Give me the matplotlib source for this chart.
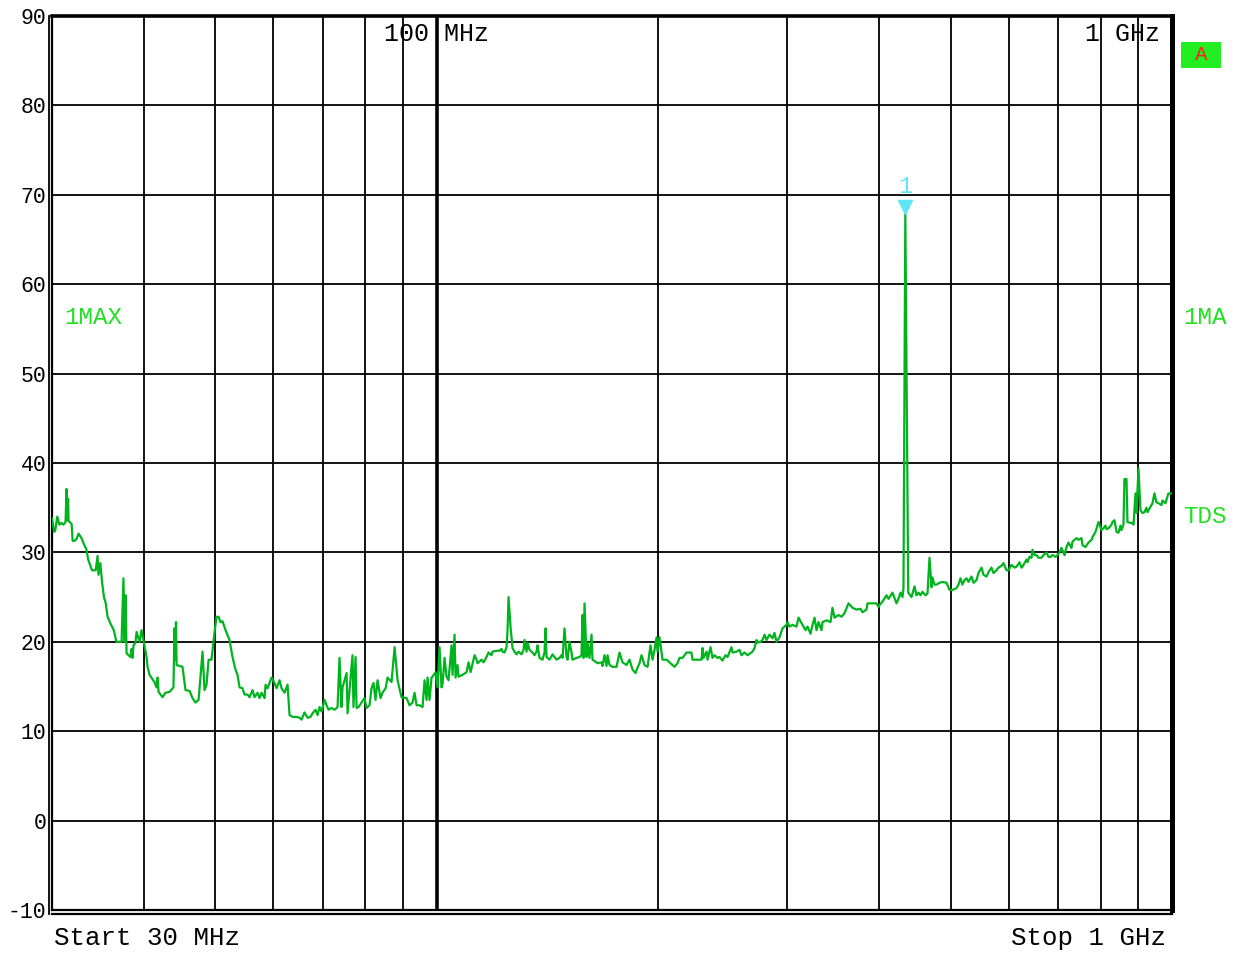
import matplotlib
matplotlib.use("Agg")
import matplotlib.pyplot as plt
import matplotlib.transforms as mtransforms
from matplotlib.patches import Rectangle

# ---------------- data ----------------
freq_mhz = [
    30.0, 30.2, 30.3, 30.5, 30.7, 30.9, 31.1, 31.3, 31.4, 31.48, 31.55, 31.6, 31.9, 32.0, 32.2, 32.4,
    32.6, 32.9, 33.2, 33.4, 33.6, 34.0, 34.4, 34.6, 34.7, 34.9, 35.1, 35.3, 35.5, 35.7, 36.0, 36.4,
    36.7, 37.3, 37.52, 37.65, 37.77, 37.89, 38.36,
    38.48, 38.60, 38.72, 38.96, 39.09, 39.46, 39.71, 40.07, 40.34, 40.46, 40.72, 41.34, 41.62, 41.75,
    41.88, 42.40, 42.79, 43.35, 43.88, 44.02, 44.16, 44.23, 44.31, 45.14, 45.57, 46.15, 46.58, 47.01,
    47.47, 48.06, 48.36, 48.67, 48.98, 49.43, 49.89, 50.22, 50.53, 50.85, 51.17, 51.65, 52.30, 52.79,
    53.28, 53.63, 53.97, 54.47, 54.81, 55.34,
    55.69, 56.21, 56.56, 57.10, 57.46, 57.82, 58.37, 58.55, 58.91, 59.28, 59.65, 60.21, 60.60, 61.17,
    61.55, 62.13, 62.72, 63.11,
    63.71, 64.51, 65.12, 65.52, 66.14, 66.77, 67.40, 67.82, 68.47, 68.90, 69.33, 69.76, 70.42, 70.87,
    71.31, 71.98, 72.66, 73.35, 73.80, 74.26, 74.50, 75.45, 75.68, 76.86, 77.10, 77.60, 77.85, 78.33,
    79.79, 80.32, 81.07, 81.58, 82.09, 82.61, 83.13, 83.91, 84.43, 85.25, 85.78, 86.85, 87.69, 88.51,
    89.61, 91.04, 91.89, 92.75, 93.34, 93.93, 94.81, 95.71,
    96.31, 96.92, 97.22, 97.83, 98.44, 98.75, 99.69, 100.31, 100.94, 101.57, 101.88, 102.53, 103.18,
    103.83, 104.80, 105.13, 105.80, 106.13, 106.79, 107.13, 108.46, 109.85, 110.54, 111.23, 112.64,
    113.34, 113.70, 115.12, 115.84, 116.94, 117.67, 118.77, 119.15, 120.66, 121.80, 122.56, 122.94,
    123.72, 124.50, 124.89, 125.28, 126.06, 126.85, 127.65, 128.46, 129.26, 130.47, 131.30, 131.71,
    132.54, 132.96, 133.79, 135.05, 135.90, 136.76, 137.19, 138.04, 139.34, 140.22, 140.67, 141.11,
    142.44, 143.77, 144.68, 145.60, 146.97, 147.89, 148.36, 149.28, 150.23, 150.70, 151.64, 152.59,
    153.07, 155.00, 156.46, 157.44, 157.93, 158.43, 158.93, 159.93, 160.43, 161.43, 162.44, 162.95,
    165.02, 165.53, 167.60, 168.12, 169.17, 170.27, 170.80, 171.87, 173.48, 175.68, 177.33, 179.00,
    181.27, 182.97, 184.69, 186.45, 187.62, 188.79,
    189.97, 191.77, 193.58, 195.40, 196.63, 197.86, 199.12, 199.74, 200.99, 202.25, 202.89, 205.45,
    207.38, 210.66, 212.64, 213.97, 215.99, 218.72, 222.14, 222.84, 226.39, 229.24, 229.96, 230.68,
    232.86, 233.59, 235.78, 237.25, 238.75, 241.01, 242.51, 244.79, 247.12, 248.68, 251.79, 252.58,
    255.79, 258.19, 259.81, 262.27, 264.75, 268.93, 270.62, 272.31, 273.16, 275.73, 277.46, 279.21,
    280.97, 283.61, 286.28, 288.09, 289.91, 292.63, 295.38, 299.13, 300.07, 301.95, 304.79, 308.64,
    310.57, 314.47, 317.47, 319.46, 322.47, 324.51, 326.54, 328.59, 330.65, 333.74, 334.77, 339.04,
    343.29, 345.44, 347.63, 352.01, 355.30, 358.68, 363.20, 367.76, 372.42, 377.08, 379.44, 384.26,
    385.46, 391.49, 396.48, 398.96,
    400.2, 403.9, 409.1, 411.7, 416.8, 419.5, 422.1, 424.7, 427.4, 430.1, 431.4, 433.9, 437.9,
    442.4, 443.8, 446.6, 449.4, 452.2, 455.0, 457.9, 462.2, 465.1, 468.0, 471.0, 472.4, 475.4, 478.4,
    482.9, 487.4, 493.6, 498.3, 502.9, 509.3, 512.5, 515.7, 518.9, 522.2, 525.5, 528.8, 533.8, 537.1,
    542.2, 545.6, 550.8, 554.2, 559.5, 563.0, 568.2, 571.8, 577.3, 580.9, 586.3, 590.0, 595.6, 599.4,
    605.0, 610.7, 614.6, 620.3, 624.2, 626.1, 634.1, 636.1, 640.1, 644.1, 646.1, 650.1, 654.3, 658.4,
    664.5, 668.7, 672.9, 675.1, 679.3, 683.5, 687.8, 694.4, 698.7, 703.1, 707.5, 711.9, 714.1, 718.7,
    723.2, 730.0, 732.3, 736.9, 741.6, 746.2, 753.2, 755.6, 762.7, 769.9, 777.2, 779.6, 787.0, 794.4,
    801.9, 806.9, 812.0, 814.6, 819.7, 827.4, 830.0, 835.2, 840.5, 845.7, 851.0, 853.7, 859.0, 861.7,
    867.2, 869.9, 878.1, 883.6, 886.4, 892.0, 894.8, 900.4, 906.0, 911.7, 917.4, 923.2, 926.1, 934.8,
    940.7, 946.6, 952.6, 958.6, 967.6, 970.6, 979.8, 982.9, 989.0, 1000.0,
]
level_db = [
    33.8, 32.3, 32.4, 34.0, 33.1, 33.3, 33.1, 33.4, 37.1, 33.6, 36.0, 33.5, 33.2, 31.3, 31.3, 31.5,
    32.1, 31.6, 30.8, 30.4, 29.2, 28.0, 28.0, 29.6, 27.5, 28.8, 26.6, 25.0, 24.3, 22.8, 22.1, 21.3,
    20.0, 20.0, 27.1, 20.0, 25.2, 18.7, 18.3,
    19.2, 18.2, 19.6, 19.9, 21.1, 20.0, 21.3, 19.6, 18.3, 17.2, 16.3, 15.5, 14.9, 16.0,
    14.4, 13.8, 14.3, 14.4, 14.9, 21.5, 18.0, 22.2, 17.4, 17.2, 14.6, 14.5, 13.7, 13.2,
    13.5, 18.9, 14.6, 15.2, 18.0, 18.0, 21.0, 22.8, 22.8, 22.2, 22.3, 21.3, 20.2, 18.3,
    16.9, 16.3, 14.9, 14.8, 14.1, 14.1,
    13.8, 14.6, 13.8, 14.3, 13.7, 14.3, 13.7, 15.2, 14.8, 15.4, 16.0, 15.4, 14.8, 15.7,
    14.8, 14.3, 15.2, 11.8,
    11.6, 11.6, 11.5, 11.3, 12.1, 11.5, 11.6, 12.0, 12.4, 11.8, 12.7, 12.2, 13.5, 12.9,
    12.4, 12.6, 12.4, 12.7, 18.2, 12.7, 14.9, 16.5, 12.0, 18.5, 12.7, 18.3, 12.6, 12.7,
    13.7, 12.6, 12.9, 14.8, 15.4, 13.5, 15.7, 13.7, 14.3, 14.8, 16.0, 15.5, 19.4, 15.7,
    13.8, 13.7, 12.9, 13.2, 14.3, 12.9, 12.9, 12.7,
    15.7, 13.5, 16.0, 13.5, 16.0, 16.1, 16.6, 14.9, 19.4, 14.9, 15.2, 18.2, 16.1,
    15.7, 19.6, 16.3, 20.8, 16.0, 17.4, 16.1, 16.3, 16.6, 17.7, 16.6, 18.5,
    18.0, 17.6, 18.0, 17.7, 18.3, 18.8, 18.5, 18.9, 19.0, 19.0, 19.2, 18.9,
    18.8, 19.4, 21.3, 25.0, 21.7, 19.3, 18.9, 18.6, 18.9, 18.6, 19.1, 20.2,
    18.9, 19.9, 19.1, 18.8, 18.5, 18.9, 19.6, 18.2, 18.0, 18.8, 21.5, 18.3,
    18.0, 18.6, 18.3, 18.0, 18.2, 18.5, 18.2, 21.5, 18.3, 18.0, 20.0, 18.8,
    18.0, 18.2, 18.3, 18.5, 23.0, 18.2, 24.3, 18.3, 19.9, 18.2, 20.8, 18.0,
    17.7, 17.6, 17.7, 17.3, 18.5, 17.3, 18.5, 17.4, 17.2, 17.2, 18.8, 17.7,
    17.4, 18.0, 16.9, 16.5, 17.1, 17.6,
    18.5, 17.4, 17.2, 19.6, 18.0, 19.1, 20.5, 18.9, 20.5, 18.8, 18.0, 18.0,
    17.7, 17.2, 17.6, 18.2, 18.2, 18.8, 18.8, 18.0, 18.0, 18.0, 19.3, 18.2,
    18.9, 18.0, 19.4, 18.2, 18.5, 18.2, 18.3, 17.9, 18.5, 18.3, 19.4, 18.8,
    18.9, 19.1, 18.5, 18.8, 18.5, 18.9, 19.3, 20.2, 19.9, 20.0, 20.2, 20.8,
    20.2, 20.8, 20.4, 21.0, 20.0, 20.5, 21.5, 21.9, 22.2, 21.7, 21.9, 21.7,
    22.7, 21.9, 21.3, 21.7, 20.9, 21.9, 22.7, 21.3, 22.2, 21.3, 22.2, 22.4,
    22.2, 23.8, 22.7, 23.0, 22.8, 23.2, 24.3, 23.8, 23.6, 23.7, 23.3, 23.6,
    24.3, 24.3, 24.3, 23.9,
    24.1, 24.5, 25.2, 24.8, 25.5, 24.9, 24.3, 24.8, 25.5, 25.0, 26.0, 67.9, 25.5,
    25.0, 25.4, 26.2, 25.2, 25.5, 25.2, 25.6, 25.2, 25.4, 29.4, 26.1, 27.2, 26.4, 26.4,
    26.6, 26.7, 26.6, 25.8, 25.8, 26.0, 26.4, 27.1, 26.4, 26.9, 27.1, 26.7, 27.3, 26.6,
    26.9, 27.7, 28.3, 27.5, 27.3, 27.8, 28.3, 27.7, 28.0, 28.3, 28.5, 28.8, 28.0, 28.0,
    28.6, 28.3, 28.4, 28.9, 28.3, 28.4, 29.2, 28.9, 29.5, 29.4, 30.3, 29.7, 29.7, 29.4,
    29.4, 29.7, 29.9, 30.0, 29.5, 29.5, 29.7, 29.5, 29.7, 30.0, 30.5, 30.0, 29.7, 30.6,
    31.1, 30.5, 31.2, 31.4, 31.6, 31.4, 31.6, 30.8, 30.6, 31.1, 31.4, 31.7, 32.3, 33.4,
    32.5, 32.7, 33.0, 32.6, 32.7, 33.1, 33.4, 33.6, 32.3, 32.2, 33.0, 32.5, 33.1, 38.2,
    38.2, 33.4, 33.3, 33.3, 33.1, 36.6, 34.4, 39.4, 34.7, 34.4, 34.5, 35.0, 34.5, 35.1,
    35.5, 36.6, 35.6, 35.5, 35.3, 35.8, 35.5, 35.9, 36.6, 36.6,
]

marker_freq = 433.9
marker_level = 67.9
marker_label = "1"

y_ticks = [-10, 0, 10, 20, 30, 40, 50, 60, 70, 80, 90]
x_grid = [40, 50, 60, 70, 80, 90, 200, 300, 400, 500, 600, 700, 800, 900]
x_start, x_stop = 30, 1000
y_min, y_max = -10, 90

# ---------------- styling ----------------
W, H = 1238, 955
MONO = ["Liberation Mono", "DejaVu Sans Mono"]
TRACE = "#00b41e"
LABEL_GREEN = "#22e022"
CYAN = "#5ee6f5"

fig = plt.figure(figsize=(W / 100, H / 100), dpi=100)
fig.patch.set_facecolor("white")
L, R, T, B = 52, 1172, 16, 910
ax = fig.add_axes([L / W, 1 - B / H, (R - L) / W, (B - T) / H])
ax.set_xscale("log")
ax.set_xlim(x_start, x_stop)
ax.set_ylim(y_min, y_max)

# grid
ax.set_xticks(x_grid)
ax.set_xticks([], minor=True)
ax.set_xticklabels([""] * len(x_grid))
ax.set_yticks(y_ticks)
ax.set_yticklabels([str(v) for v in y_ticks], family=MONO, fontsize=15.5)
ax.tick_params(axis="both", which="both", length=0)
ax.tick_params(axis="y", pad=4)
ax.grid(True, color="black", linewidth=1.3)
ax.set_axisbelow(True)
ax.axvline(100, color="black", linewidth=2.6, zorder=1)

# frame
for s in ["left", "bottom"]:
    ax.spines[s].set_linewidth(1.6)
ax.spines["top"].set_linewidth(2.6)
ax.spines["right"].set_linewidth(3.6)
off_left = mtransforms.offset_copy(ax.transAxes, fig=fig, x=-3.5, y=0, units="dots")
off_bot = mtransforms.offset_copy(ax.transAxes, fig=fig, x=0, y=-3.5, units="dots")
ax.plot([0, 0], [-0.004, 1.0], transform=off_left, color="black", lw=1.3, clip_on=False)
ax.plot([0, 1.0], [0, 0], transform=off_bot, color="black", lw=1.6, clip_on=False)

# trace
ax.plot(freq_mhz, level_db, color=TRACE, linewidth=1.6, zorder=3)

# marker
mk_tr = mtransforms.offset_copy(ax.transData, fig=fig, x=0, y=7, units="dots")
ax.plot([marker_freq], [marker_level], marker="v", markersize=9.5, color=CYAN,
        transform=mk_tr, zorder=4, clip_on=False)
ax.annotate(marker_label, (marker_freq, marker_level), xytext=(0, 27),
            textcoords="offset pixels", ha="center", va="center",
            color=CYAN, family=MONO, fontsize=17)

# top labels
ax.text(100, 1 - 18 / (B - T), "100 MHz", transform=ax.get_xaxis_transform(),
        ha="center", va="center", family=MONO, fontsize=18)
fig.text(1160 / W, 1 - 34 / H, "1 GHz", ha="right", va="center", family=MONO, fontsize=18)

# side labels
fig.text(64 / W, 1 - 317 / H, "1MAX", ha="left", va="center", family=MONO,
         fontsize=17.5, color=LABEL_GREEN)
fig.text(1183 / W, 1 - 317 / H, "1MA", ha="left", va="center", family=MONO,
         fontsize=17.5, color=LABEL_GREEN)
fig.text(1183 / W, 1 - 516 / H, "TDS", ha="left", va="center", family=MONO,
         fontsize=17.5, color=LABEL_GREEN)

# "A" box
fig.patches.append(Rectangle((1181 / W, 1 - 68 / H), 40 / W, 26 / H,
                             transform=fig.transFigure, facecolor="#22ee22",
                             edgecolor="none"))
fig.text(1201 / W, 1 - 55 / H, "A", ha="center", va="center", family=MONO,
         fontsize=15, color="#ff2020")

# bottom labels
fig.text(54 / W, 1 - 938 / H, "Start 30 MHz", ha="left", va="center", family=MONO, fontsize=18.5)
fig.text(1166 / W, 1 - 938 / H, "Stop 1 GHz", ha="right", va="center", family=MONO, fontsize=18.5)

fig.savefig("out.png", dpi=100, facecolor="white")
